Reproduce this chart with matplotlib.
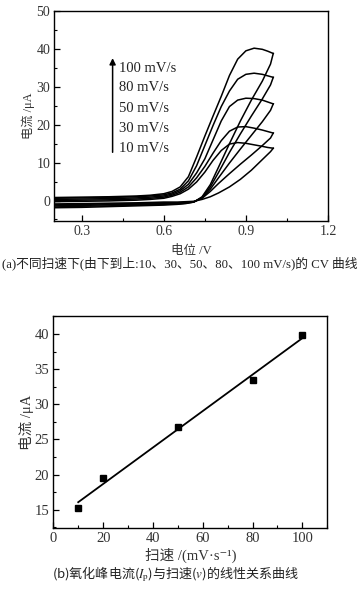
import numpy as np
import matplotlib.pyplot as plt
from matplotlib.ticker import MultipleLocator

plt.rcParams['mathtext.fontset'] = 'stix'
SERIF_CJK = ['Liberation Serif', 'Noto Sans CJK SC', 'DejaVu Sans']
CJK = ['Noto Sans CJK SC', 'DejaVu Sans']

# ---- (a) CV curves ----
scan_labels = ['100 mV/s', '80 mV/s', '50 mV/s', '30 mV/s', '10 mV/s']

# forward scan (0.2 -> 1.0 V)
v_fwd = [0.2, 0.3, 0.4, 0.5, 0.55, 0.6, 0.63, 0.66, 0.69, 0.72,
         0.75, 0.78, 0.81, 0.84, 0.87, 0.9, 0.93, 0.96, 0.98, 1.0]
i_fwd_100 = [0.8, 0.9, 1.0, 1.2, 1.4, 1.8, 2.4, 3.6, 6.3, 11.5,
             17.0, 22.3, 27.5, 33.0, 37.3, 39.5, 40.2, 39.9, 39.4, 38.8]
i_fwd_80 = [0.6, 0.7, 0.8, 1.0, 1.2, 1.5, 2.0, 3.0, 5.2, 9.2,
            14.5, 19.8, 24.8, 28.9, 32.0, 33.3, 33.6, 33.3, 32.9, 32.5]
i_fwd_50 = [0.3, 0.4, 0.5, 0.7, 0.9, 1.2, 1.7, 2.6, 4.3, 7.3,
            11.0, 16.0, 21.0, 24.8, 26.5, 27.0, 26.9, 26.5, 26.0, 25.5]
i_fwd_30 = [0.0, 0.1, 0.2, 0.4, 0.6, 0.9, 1.4, 2.2, 3.6, 6.0,
            9.0, 12.5, 15.8, 18.3, 19.4, 19.5, 19.1, 18.6, 18.2, 17.8]
i_fwd_10 = [-0.3, -0.2, -0.1, 0.1, 0.3, 0.6, 1.1, 1.8, 3.0, 4.9,
            7.5, 10.6, 13.2, 14.9, 15.3, 15.1, 14.7, 14.3, 14.0, 13.8]

# reverse scan (1.0 -> 0.2 V)
v_rev = [1.0, 0.99, 0.96, 0.92, 0.88, 0.84, 0.8, 0.77, 0.74, 0.71,
         0.68, 0.65, 0.6, 0.5, 0.4, 0.3, 0.2]
i_rev_100 = [38.8, 36.0, 31.5, 26.5, 21.0, 15.0, 8.8, 4.2, 1.0, -0.4,
             -0.8, -1.0, -1.2, -1.4, -1.6, -1.8, -1.9]
i_rev_80 = [32.5, 30.5, 26.8, 22.3, 17.6, 12.7, 7.4, 3.6, 0.8, -0.4,
            -0.7, -0.9, -1.0, -1.2, -1.4, -1.5, -1.7]
i_rev_50 = [25.5, 23.8, 20.8, 17.2, 13.6, 9.9, 6.0, 3.0, 0.7, -0.3,
            -0.6, -0.7, -0.8, -1.0, -1.1, -1.3, -1.4]
i_rev_30 = [17.8, 16.5, 14.5, 12.0, 9.6, 7.1, 4.5, 2.4, 0.6, -0.3,
            -0.5, -0.6, -0.6, -0.8, -0.9, -1.0, -1.1]
i_rev_10 = [13.8, 12.9, 10.8, 8.0, 5.6, 3.6, 2.0, 1.0, 0.3, -0.2,
            -0.3, -0.4, -0.4, -0.6, -0.7, -0.8, -0.9]

fwd_all = [i_fwd_100, i_fwd_80, i_fwd_50, i_fwd_30, i_fwd_10]
rev_all = [i_rev_100, i_rev_80, i_rev_50, i_rev_30, i_rev_10]

# ---- (b) peak current vs scan rate ----
scan_rate = [10, 20, 50, 80, 100]
peak_current = [15.3, 19.5, 26.8, 33.4, 39.8]

fig = plt.figure(figsize=(3.59, 5.93), dpi=100)

# (a)
ax1 = fig.add_axes([0.1513, 0.6273, 0.7623, 0.3541])
for i_f, i_r in zip(fwd_all, rev_all):
    ax1.plot(v_fwd, i_f, color='black', lw=1.1)
    ax1.plot(v_rev, i_r, color='black', lw=1.1)
ax1.set_xlim(0.2, 1.2)
ax1.set_ylim(-5.4, 50)
ax1.xaxis.set_minor_locator(MultipleLocator(0.15))
ax1.yaxis.set_major_locator(MultipleLocator(10))
ax1.yaxis.set_minor_locator(MultipleLocator(5))
ax1.set_xticks([0.3, 0.6, 0.9, 1.2])
ax1.set_xticklabels(['0.3', '0.6', '0.9', '1.2'])

ax1.annotate('', xy=(0.413, 38.3), xytext=(0.413, 12.0),
             arrowprops=dict(arrowstyle='-|>', color='black', lw=1.1,
                             mutation_scale=9))
for lab, y in zip(scan_labels, [34.9, 29.7, 24.4, 18.9, 13.6]):
    ax1.text(0.435, y, lab, ha='left', va='center', fontsize=10.5,
             family='Liberation Serif', color='#222222')
ax1.set_xlabel('电位 /V', family=SERIF_CJK, fontsize=9, color='#333333',
               labelpad=5)
ax1.set_ylabel('电流 /μA', family=SERIF_CJK, fontsize=8.8, color='#333333',
               labelpad=1)

# (b)
ax2 = fig.add_axes([0.1485, 0.1091, 0.7632, 0.3585])
slope, icpt = np.polyfit(scan_rate, peak_current, 1)
xfit = np.array([scan_rate[0], scan_rate[-1]])
ax2.plot(xfit, slope * xfit + icpt, color='black', lw=1.3)
ax2.plot(scan_rate, peak_current, 's', color='black', ms=4)
ax2.set_xlim(0, 110)
ax2.set_ylim(12.35, 42.6)
ax2.xaxis.set_minor_locator(MultipleLocator(10))
ax2.yaxis.set_minor_locator(MultipleLocator(2.5))
ax2.set_xticks([0, 20, 40, 60, 80, 100])
ax2.set_yticks([15, 20, 25, 30, 35, 40])
ax2.set_xlabel('扫速 /(mV·s⁻¹)', family=SERIF_CJK, fontsize=10.5,
               color='#333333', labelpad=2)
ax2.set_ylabel('电流 /μA', family=SERIF_CJK, fontsize=10.5, color='#333333',
               labelpad=0.5)

for ax, fs in [(ax1, 10), (ax2, 10.5)]:
    for sp in ax.spines.values():
        sp.set_linewidth(1.0)
    ax.tick_params(which='both', direction='in', top=False, right=False,
                   labelsize=fs, labelcolor='#333333', pad=3)
    ax.tick_params(which='major', length=4, width=0.9)
    ax.tick_params(which='minor', length=2.5, width=0.8)
    for t in ax.get_xticklabels() + ax.get_yticklabels():
        t.set_family('Liberation Serif')

fig.text(0.5, 0.556, '(a)不同扫速下(由下到上:10、30、50、80、100 mV/s)的 CV 曲线',
         ha='center', va='center', family=SERIF_CJK, fontsize=9.2,
         color='#222222')
fig.text(0.489, 0.031, r'(b)氧化峰电流($I_\mathrm{p}$)与扫速($v$)的线性关系曲线',
         ha='center', va='center', family=CJK, fontsize=9.4, color='#222222')

fig.savefig('out.png', dpi=100)
